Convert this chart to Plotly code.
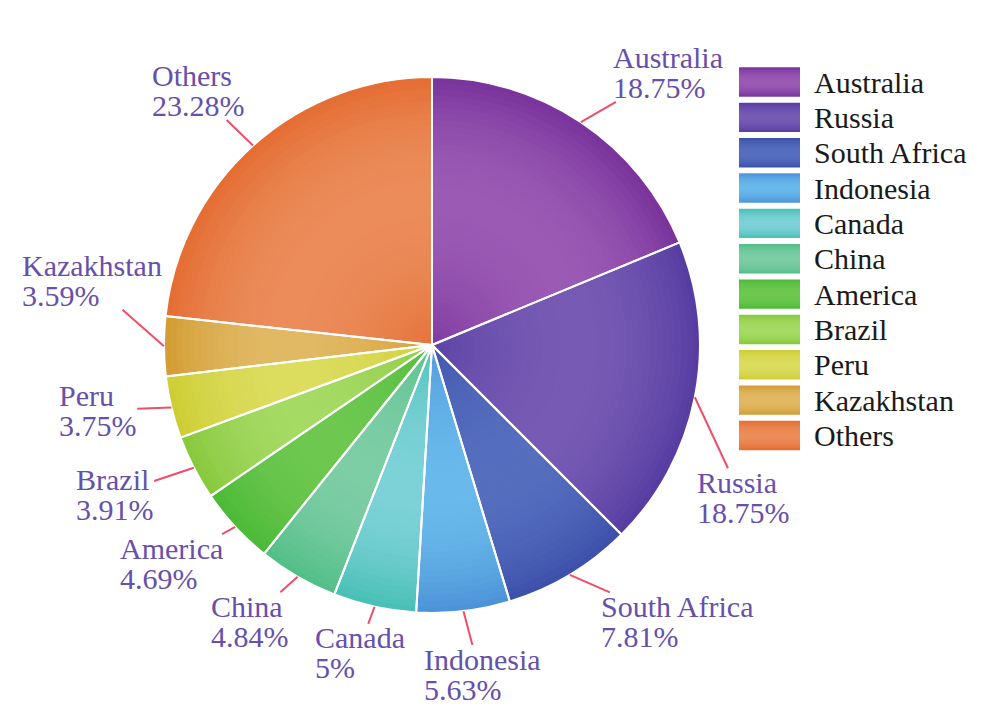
import math
import plotly.graph_objects as go

# ---------------- data ----------------
categories = ["Australia", "Russia", "South Africa", "Indonesia", "Canada", "China",
              "America", "Brazil", "Peru", "Kazakhstan", "Others"]
shares = [18.75, 18.75, 7.81, 5.63, 5, 4.84, 4.69, 3.91, 3.75, 3.59, 23.28]

# ---------------- styles ----------------
edge_colors = ["#78329b", "#553ca0", "#3c50aa", "#4b91d7", "#46beb4", "#50be87",
               "#4bb937", "#87c83c", "#cdcd32", "#d29b32", "#e46c32"]
light_colors = ["#9b5ab4", "#765ab4", "#556ebe", "#69b9eb", "#7dd2d7", "#7dcda5",
                "#6ec850", "#a5da64", "#dcdc5f", "#e1b964", "#eb8c5a"]

W, H = 981, 726
CX, CY, R = 432, 345, 268          # pie centre / radius in px
FONT = "Liberation Serif, Times New Roman, serif"
FS = 30
LABEL_COLOR = "#6650ab"
LINE_COLOR = "#ef4d6b"

# label layout (radius as fraction of R, angular nudge in degrees)
label_r = [1.339, 1.287, 1.376, 1.241, 1.182, 1.239, 1.272, 1.317, 1.279, 1.300, 1.292]
label_shift = [6.95, 14.95, -10.5, -1.55, 1.2, 3.6, 2.95, 2.15, 2.5, 10.9, -0.9]

CW = {'A': .722, 'B': .667, 'C': .667, 'I': .333, 'K': .722, 'O': .722, 'P': .556,
      'R': .667, 'S': .556, 'a': .444, 'b': .5, 'c': .444, 'd': .5, 'e': .444, 'f': .333,
      'h': .5, 'i': .278, 'k': .5, 'l': .278, 'm': .778, 'n': .5, 'o': .5, 'r': .333,
      's': .389, 't': .278, 'u': .5, 'z': .444, ' ': .25, '.': .25, '%': .833}


def tw(s, size=FS):
    return sum(CW.get(ch, 0.5) for ch in s) * size


def hex2rgb(h):
    h = h.lstrip('#')
    return tuple(int(h[i:i + 2], 16) for i in (0, 2, 4))


def mix(c1, c2, f):
    a, b = hex2rgb(c1), hex2rgb(c2)
    return "rgb(%d,%d,%d)" % tuple(round(a[i] + (b[i] - a[i]) * f) for i in range(3))


def radial_f(r):
    if r < 0.55:
        return max(0.0, 1 - ((0.55 - r) / 0.62) ** 2)
    return max(0.0, 1 - ((r - 0.55) / 0.45) ** 2)


def px2paper(x, y):
    return x / W, 1 - y / H


fig = go.Figure()

# ---------------- gradient pie: stacked concentric pies ----------------
N = 44
for k in range(N):
    r = R * (1 - k / N)
    rm = (1 - (k + 0.5) / N)
    f = radial_f(rm)
    cols = [mix(e, l, f) for e, l in zip(edge_colors, light_colors)]
    fig.add_trace(go.Pie(
        labels=categories, values=shares, sort=False, direction="clockwise", rotation=0,
        marker=dict(colors=cols, line=dict(width=0, color="rgba(0,0,0,0)")),
        textinfo="none", hoverinfo="skip", showlegend=False,
        domain=dict(x=[(CX - r) / W, (CX + r) / W], y=[(H - CY - r) / H, (H - CY + r) / H]),
    ))

# separator overlay
fig.add_trace(go.Pie(
    labels=categories, values=shares, sort=False, direction="clockwise", rotation=0,
    marker=dict(colors=["rgba(0,0,0,0)"] * len(categories), line=dict(color="white", width=2)),
    textinfo="none", hovertemplate="%{label}: %{value}%<extra></extra>", showlegend=False,
    domain=dict(x=[(CX - R) / W, (CX + R) / W], y=[(H - CY - R) / H, (H - CY + R) / H]),
))

# ---------------- outside labels with leader lines ----------------
shapes = []
annotations = []
total = sum(shares)
cum = 0.0
for i, (name, v) in enumerate(zip(categories, shares)):
    mid = (cum + v / 2) / total * 360.0
    cum += v
    th = math.radians(mid)
    px, py = CX + R * math.sin(th), CY - R * math.cos(th)
    tl = math.radians(mid + label_shift[i])
    lx = CX + label_r[i] * R * math.sin(tl)
    ly = CY - label_r[i] * R * math.cos(tl)
    pct = f"{v:g}%"
    w = max(tw(name), tw(pct))
    hw, hh = w / 2 + 3, 29
    dx, dy = lx - px, ly - py
    s = min(hw / abs(dx) if dx else 1e9, hh / abs(dy) if dy else 1e9)
    ex, ey = lx - s * dx, ly - s * dy
    x0, y0 = px2paper(px, py)
    x1, y1 = px2paper(ex, ey)
    shapes.append(dict(type="line", xref="paper", yref="paper", x0=x0, y0=y0, x1=x1, y1=y1,
                       line=dict(color=LINE_COLOR, width=2)))
    left = lx - w / 2
    for txt, yy in ((name, ly - 15), (pct, ly + 15)):
        ax, ay = px2paper(left, yy)
        annotations.append(dict(text=txt, x=ax, y=ay, xref="paper", yref="paper",
                                xanchor="left", yanchor="middle", showarrow=False,
                                font=dict(family=FONT, size=FS, color=LABEL_COLOR)))

# ---------------- legend (gradient swatches) ----------------
LX0, LX1, LY0, LSTEP, LH = 739, 800, 67.3, 35.35, 29.4
STRIPS = 14
for i, name in enumerate(categories):
    top = LY0 + i * LSTEP
    for j in range(STRIPS):
        t = (j + 0.5) / STRIPS
        f = max(0.0, 1 - ((t - 0.5) / 0.5) ** 2)
        ya = top + j * LH / STRIPS
        yb = min(top + LH, top + (j + 1) * LH / STRIPS + 1.2)
        xa, ya_p = px2paper(LX0, ya)
        xb, yb_p = px2paper(LX1, yb)
        shapes.append(dict(type="rect", xref="paper", yref="paper", x0=xa, x1=xb,
                           y0=yb_p, y1=ya_p, line=dict(width=0),
                           fillcolor=mix(edge_colors[i], light_colors[i], f)))
    tx, ty = px2paper(812, top + LH / 2)
    annotations.append(dict(text=name, x=tx, y=ty, xref="paper", yref="paper",
                            xanchor="left", yanchor="middle", showarrow=False,
                            font=dict(family=FONT, size=FS, color="#1a1a1a")))

fig.update_layout(
    width=W, height=H, margin=dict(l=0, r=0, t=0, b=0),
    paper_bgcolor="white", plot_bgcolor="white",
    showlegend=False, shapes=shapes, annotations=annotations,
    font=dict(family=FONT),
)

fig.write_html("out.html", config={"displayModeBar": False},
               post_script="document.body.style.margin='0';document.body.style.overflow='hidden';")
